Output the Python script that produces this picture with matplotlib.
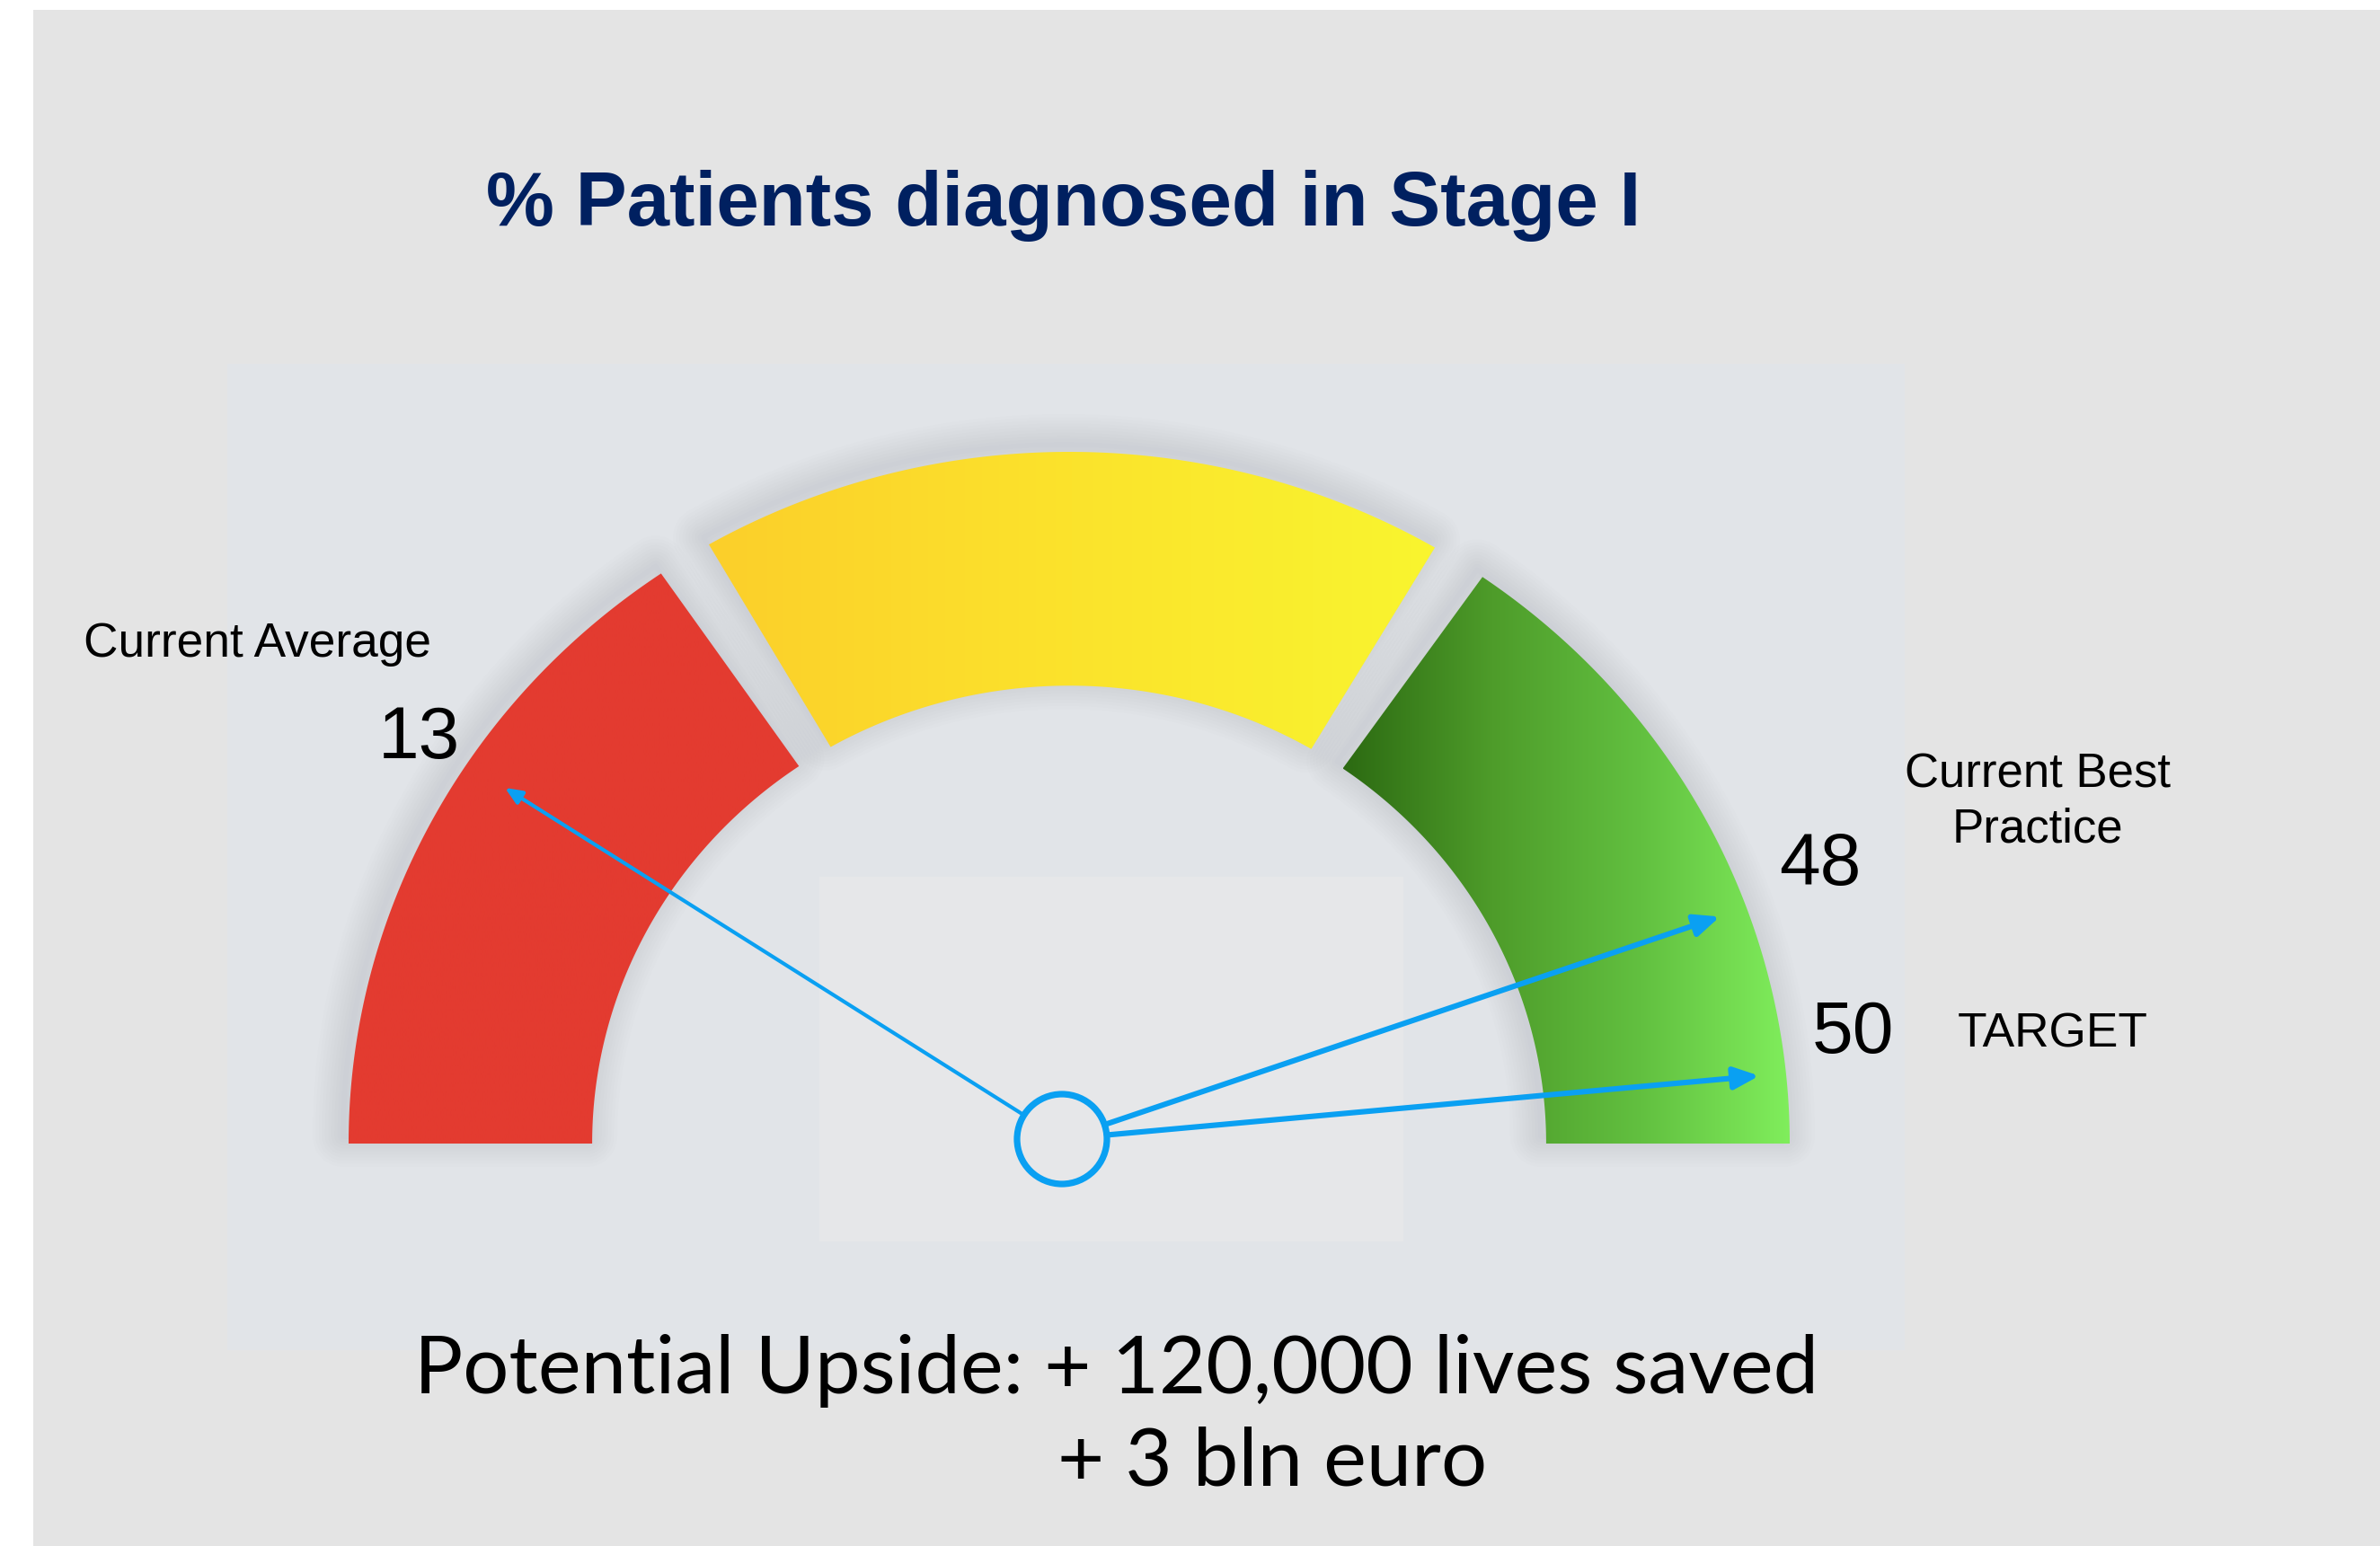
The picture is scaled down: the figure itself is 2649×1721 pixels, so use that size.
import numpy as np
import matplotlib
matplotlib.use("Agg")
import matplotlib.pyplot as plt
from matplotlib.patches import Polygon, Rectangle, Circle
from matplotlib.colors import LinearSegmentedColormap

# ---------------- data ----------------
title = "% Patients diagnosed in Stage I"
zone_labels = ["red", "yellow", "green"]
zone_start_deg = [180.0, 120.0, 55.0]
zone_end_deg = [124.5, 59.5, 0.0]

needle_values = [13, 48, 50]
needle_names = ["Current Average", "Current Best\nPractice", "TARGET"]
# gauge scale (value -> angle on dial, degrees)
scale_values = [0, 13, 48, 50, 55]
scale_degrees = [180.0, 146.7, 19.4, 5.4, 0.0]

upside_line1 = "Potential Upside: + 120,000 lives saved"
upside_line2 = "+ 3 bln euro"

# ---------------- layout / style ----------------
W, H = 2649, 1721
CX, CY = 1190, 1273          # dial centre (pixels, image coords)
RX, RY = 802, 770            # outer radius in x / y
R_IN = 0.662                 # inner radius fraction
HUB = (1182, 1268)
HUB_R = 50
NEEDLE_LEN = [0.925, 0.968, 0.972]
BLUE = "#0aa0f2"

fig = plt.figure(figsize=(W / 100, H / 100), dpi=100, facecolor="white")
ax = fig.add_axes([0, 0, 1, 1])
ax.set_xlim(0, W)
ax.set_ylim(H, 0)
ax.axis("off")

# backgrounds
ax.add_patch(Rectangle((37, 11), W - 37, H - 11, facecolor="#e4e4e4", edgecolor="none", zorder=0))
ax.add_patch(Rectangle((253, 405), 1867, 1098, facecolor="#e1e4e8", edgecolor="none", zorder=0.5))
ax.add_patch(Rectangle((912, 976), 650, 406, facecolor="#e6e7e9", edgecolor="none", zorder=0.6))


def ell(r, th_deg):
    t = np.radians(th_deg)
    return CX + r * RX * np.cos(t), CY - r * RY * np.sin(t)


def zone_poly(a0, a1):
    th = np.linspace(a0, a1, 120)
    xo, yo = ell(1.0, th)
    xi, yi = ell(R_IN, th[::-1])
    return np.column_stack([np.r_[xo, xi], np.r_[yo, yi]])


zone_colors = {
    "red": ["#e33b30", "#e33b30"],
    "yellow": ["#fbcf2a", "#fbe32c", "#f9f52f"],
    "green": ["#2c6a12", "#4e9c2a", "#62c040", "#80ee5c"],
}

for name, a0, a1 in zip(zone_labels, zone_start_deg, zone_end_deg):
    pts = zone_poly(a0, a1)
    # soft shadow
    for k in range(10):
        sh = Polygon(pts - np.array([6, 8]), closed=True, facecolor="none",
                     edgecolor="#8d96a6", linewidth=4 + 5 * k, alpha=0.02,
                     joinstyle="round", zorder=1)
        ax.add_patch(sh)
    poly = Polygon(pts, closed=True, facecolor="none", edgecolor="none", zorder=2)
    ax.add_patch(poly)
    cmap = LinearSegmentedColormap.from_list(name, zone_colors[name])
    x0, x1 = pts[:, 0].min(), pts[:, 0].max()
    y0, y1 = pts[:, 1].min(), pts[:, 1].max()
    grad = np.linspace(0, 1, 256)[None, :]
    im = ax.imshow(grad, cmap=cmap, extent=[x0, x1, y1, y0], aspect="auto",
                   zorder=2, interpolation="bilinear")
    im.set_clip_path(poly)

ax.set_xlim(0, W)
ax.set_ylim(H, 0)

# needles
for i, v in enumerate(needle_values):
    ang = np.interp(v, scale_values, scale_degrees)
    t = np.radians(ang)
    tip = (HUB[0] + NEEDLE_LEN[i] * RX * np.cos(t), HUB[1] - NEEDLE_LEN[i] * RY * np.sin(t))
    if i == 0:
        style = "-|>,head_length=0.7,head_width=0.3"
        lw, ms = 3.0, 16
    else:
        style = "-|>,head_length=0.8,head_width=0.35"
        lw, ms = 4.4, 21
    ax.annotate("", xy=tip, xytext=HUB,
                arrowprops=dict(arrowstyle=style, color=BLUE, lw=lw,
                                mutation_scale=ms, shrinkA=0, shrinkB=0),
                zorder=5)

ax.add_patch(Circle(HUB, HUB_R, facecolor="#e6e7e9", edgecolor=BLUE, linewidth=5.2, zorder=6))

# texts
sans = ["Liberation Sans", "DejaVu Sans"]
ax.text(1184, 229, title, ha="center", va="center", fontsize=61.5, fontweight="bold",
        color="#002060", family=sans, zorder=7)

ax.text(93, 717, needle_names[0], ha="left", va="center", fontsize=38.3, color="black", family=sans)
ax.text(512, 823, str(needle_values[0]), ha="right", va="center", fontsize=59, color="black", family=sans)

ax.text(2268, 893, needle_names[1], ha="center", va="center", fontsize=38, color="black",
        family=sans, linespacing=1.3)
ax.text(2071, 964, str(needle_values[1]), ha="right", va="center", fontsize=59, color="black", family=sans)

ax.text(2108, 1151, str(needle_values[2]), ha="right", va="center", fontsize=59, color="black", family=sans)
ax.text(2179, 1151, needle_names[2], ha="left", va="center", fontsize=38.3, color="black", family=sans)

light = ["Lato", "DejaVu Sans"]
ax.text(461, 1526, upside_line1, ha="left", va="center", fontsize=65,
        color="black", family=light)
ax.text(1177, 1628, upside_line2, ha="left", va="center", fontsize=65,
        color="black", family=light)

fig.savefig("out.png", dpi=100, facecolor="white")
